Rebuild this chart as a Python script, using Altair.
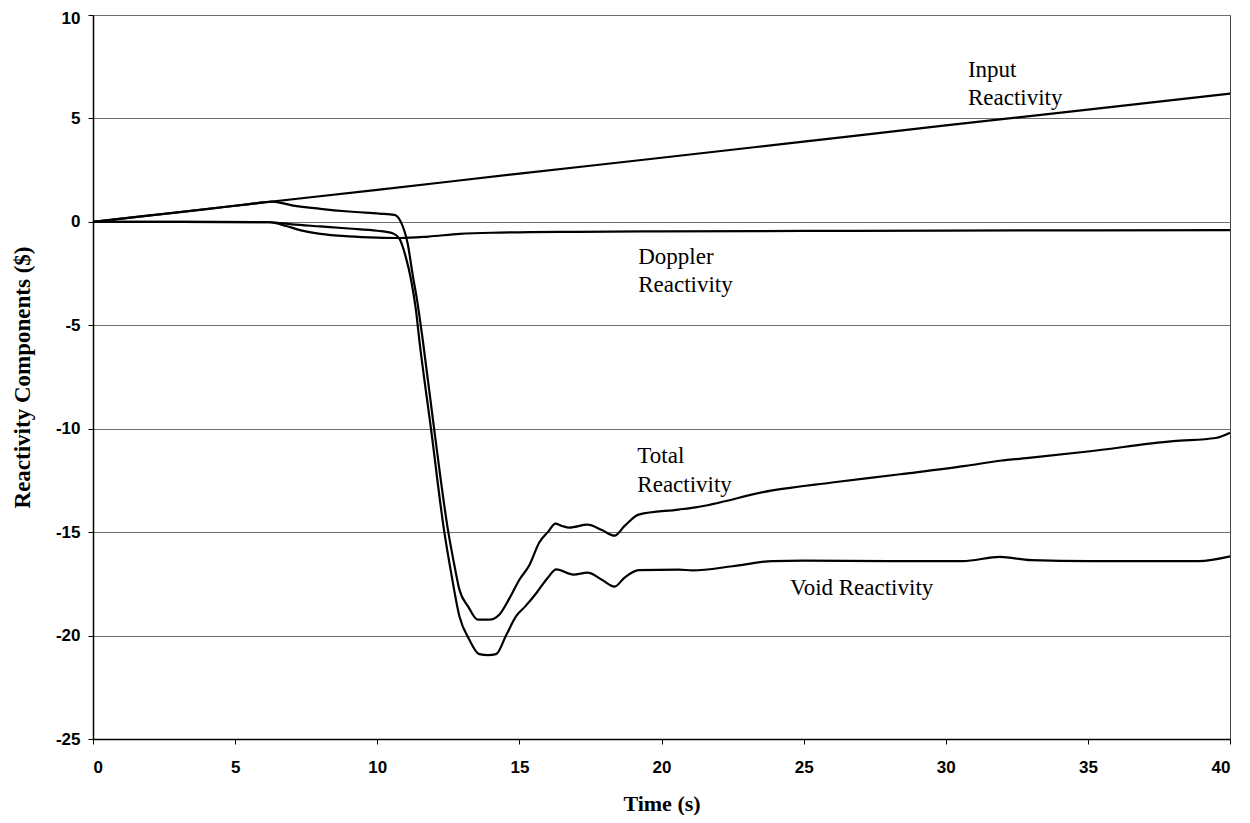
import altair as alt
import pandas as pd

# ---- data ----
input_t = [0, 5, 10, 15, 20, 25, 30, 35, 40]
input_v = [0, 0.78, 1.55, 2.33, 3.1, 3.88, 4.66, 5.43, 6.2]

doppler_t = [0, 3, 6.2, 6.8, 7.25, 8, 9, 10, 10.8, 11.8, 12.9, 14.3, 17, 20, 25, 30, 35, 40]
doppler_v = [0, 0, -0.02, -0.2, -0.39, -0.58, -0.7, -0.76, -0.78, -0.71, -0.58, -0.52,
             -0.48, -0.46, -0.44, -0.42, -0.41, -0.4]

void_t = [0, 3, 6.2, 7, 8, 9, 10, 10.54, 10.77, 11.0, 11.19, 11.36, 11.48, 11.89, 12.36,
          12.6, 12.89, 13.24, 13.59, 13.9, 14.18, 14.53, 14.88, 15.2, 15.6, 16.0, 16.3,
          16.9, 17.4, 17.9, 18.35, 18.7, 19.2, 20.6, 21.1, 22.5, 23.9, 25, 28, 30.6, 31.9,
          33, 35.1, 37, 38.9, 40]
void_v = [0, 0, -0.02, -0.12, -0.22, -0.32, -0.43, -0.55, -0.79, -1.68, -2.8, -4.25, -5.7,
          -10, -15, -16.97, -19.07, -20.2, -20.9, -20.95, -20.9, -20.0, -19.07, -18.6,
          -17.94, -17.2, -16.8, -17.05, -16.96, -17.3, -17.63, -17.2, -16.84, -16.81,
          -16.85, -16.65, -16.4, -16.38, -16.4, -16.4, -16.2, -16.35, -16.4, -16.4, -16.4,
          -16.17]

total_t = [0, 2, 4, 5.5, 6.3, 7, 8, 9, 10.07, 10.6, 10.83, 11.07, 11.24, 11.42, 11.6, 12.0,
           12.5, 12.7, 12.89, 13.2, 13.53, 13.94, 14.3, 14.65, 15.0, 15.35, 15.7, 16.0,
           16.27, 16.5, 16.76, 17.4, 17.9, 18.35, 18.7, 19.2, 20.6, 21.2, 23.9, 26.0, 28.4,
           30.7, 31.9, 33, 35, 38, 39.5, 40]
total_v = [0, 0.31, 0.62, 0.86, 0.98, 0.8, 0.63, 0.5, 0.4, 0.34, 0.0, -1.05, -2.5, -3.95,
           -5.7, -10, -15, -16.5, -17.78, -18.6, -19.23, -19.23, -18.98, -18.2, -17.3,
           -16.6, -15.5, -15.0, -14.59, -14.7, -14.78, -14.64, -14.9, -15.17, -14.7,
           -14.15, -13.91, -13.8, -12.98, -12.6, -12.2, -11.8, -11.55, -11.4, -11.1, -10.6,
           -10.45, -10.2]

label_text = ["Input", "Reactivity", "Doppler", "Reactivity", "Total", "Reactivity",
              "Void Reactivity"]
label_t = [30.78, 30.78, 19.18, 19.18, 19.15, 19.15, 24.52]
label_v = [7.34, 5.99, -1.68, -3.05, -11.31, -12.72, -17.71]

x_ticks = [0, 5, 10, 15, 20, 25, 30, 35, 40]
y_ticks = [-25, -20, -15, -10, -5, 0, 5, 10]

# ---- build table ----
rows = []
for name, ts, vs in [("Input", input_t, input_v), ("Doppler", doppler_t, doppler_v),
                     ("Void", void_t, void_v), ("Total", total_t, total_v)]:
    for t, v in zip(ts, vs):
        rows.append({"series": name, "t": t, "v": v})
df = pd.DataFrame(rows)
labels = pd.DataFrame({"t": label_t, "v": label_v, "text": label_text})

x_scale = alt.Scale(domain=[0, 40], nice=False, zero=False)
y_scale = alt.Scale(domain=[-25, 10], nice=False, zero=False)

x_axis = alt.Axis(values=x_ticks, grid=False, domainColor="black", domainWidth=1.5,
                  tickColor="black", tickSize=5, labelFont="Liberation Sans",
                  labelFontWeight="bold", labelFontSize=17, labelColor="black",
                  labelPadding=15, labelExpr="toString(datum.value)",
                  title="Time (s)", titleFont="Liberation Serif",
                  titleFontSize=22, titleFontWeight="bold", titleColor="black",
                  titleY=64, titleBaseline="middle")
y_axis = alt.Axis(values=y_ticks, grid=True, gridColor="#6e6e6e", gridWidth=1,
                  domainColor="black", domainWidth=1.5, tickColor="black", tickSize=5,
                  labelFont="Liberation Sans", labelFontWeight="bold", labelFontSize=17,
                  labelColor="black", labelPadding=8,
                  labelOffset={"condition": {"test": "datum.value == 10", "value": 3},
                               "value": 0},
                  labelExpr="toString(datum.value)",
                  title="Reactivity Components ($)", titleFont="Liberation Serif",
                  titleFontSize=23, titleFontWeight="bold", titleColor="black",
                  titleX=-71, titleY=362, titleAngle=-90, titleAlign="center",
                  titleBaseline="middle")

lines = alt.Chart(df).mark_line(color="black", strokeWidth=2.2,
                                interpolate="monotone").encode(
    x=alt.X("t:Q", scale=x_scale, axis=x_axis),
    y=alt.Y("v:Q", scale=y_scale, axis=y_axis),
    detail="series:N",
)

text = alt.Chart(labels).mark_text(align="left", baseline="middle",
                                   font="Liberation Serif", fontSize=23,
                                   color="black").encode(
    x=alt.X("t:Q", scale=x_scale),
    y=alt.Y("v:Q", scale=y_scale),
    text="text:N",
)

chart = alt.layer(lines, text).properties(
    width=1137, height=724,
    padding={"left": 85, "top": 7, "right": 12, "bottom": 76},
    autosize=alt.AutoSizeParams(type="none"),
    background="white",
).configure_view(stroke="#444444", strokeWidth=1)

chart.save("out.html", embed_options={"renderer": "svg", "actions": False})
